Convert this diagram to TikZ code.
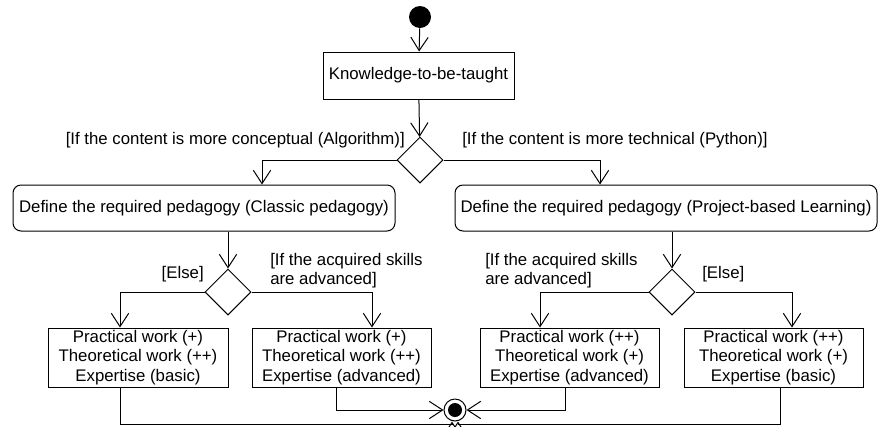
\documentclass[tikz,border=0pt]{standalone}
\usepackage{fontspec}
\setmainfont{Liberation Sans}
\usetikzlibrary{arrows.meta,shapes.geometric}
\begin{document}
\begin{tikzpicture}[x=0.75pt,y=-0.75pt,
  every node/.style={font=\fontsize{12.6}{14.7}\selectfont},
  line/.style={draw=black,line width=0.75pt},
  arr/.style={line,-{Straight Barb[length=10pt,width=13pt]}},
  actbox/.style={line,rectangle,inner sep=0pt,minimum height=46*0.75pt,align=center},
  pedbox/.style={line,rectangle,rounded corners=6pt,inner sep=0pt,minimum height=46*0.75pt},
  resbox/.style={line,rectangle,inner sep=0pt,minimum width=179*0.75pt,minimum height=59*0.75pt,align=center},
  decision/.style={line,diamond,inner sep=0pt,minimum width=46*0.75pt,minimum height=46*0.75pt},
  guard/.style={inner sep=0pt,align=left}]
\useasboundingbox (0,0) rectangle (878,426);
\clip (0,0) rectangle (878,426);
% nodes
\node[circle,fill=black,inner sep=0pt,minimum size=22*0.75pt] (I) at (420,17) {};
\node[actbox,minimum width=191*0.75pt,minimum height=47*0.75pt] (K) at (418.5,75.5) {Knowledge-to-be-taught};
\node[decision] (D0) at (420,160) {};
\node[pedbox,minimum width=382*0.75pt] (P1) at (204,208) {Define the required pedagogy (Classic pedagogy)};
\node[pedbox,minimum width=422*0.75pt] (P2) at (666,208) {Define the required pedagogy (Project-based Learning)};
\node[decision] (D1) at (228,292) {};
\node[decision] (D2) at (672,292) {};
\node[resbox,minimum width=180*0.75pt] (B1) at (138,357.5) {Practical work (+)\\Theoretical work (++)\\Expertise (basic)};
\node[resbox] (B2) at (341.5,357.5) {Practical work (+)\\Theoretical work (++)\\Expertise (advanced)};
\node[resbox] (B3) at (569.5,357.5) {Practical work (++)\\Theoretical work (+)\\Expertise (advanced)};
\node[resbox] (B4) at (773.5,357.5) {Practical work (++)\\Theoretical work (+)\\Expertise (basic)};
\node[line,circle,fill=white,inner sep=0pt,minimum size=22*0.75pt] (F) at (455,410) {};
\node[circle,fill=black,inner sep=0pt,minimum size=14*0.75pt] (Fi) at (F.center) {};
% guards
\node[guard,anchor=east] (g1) at (405,140) {[If the content is more conceptual (Algorithm)]};
\node[guard,anchor=west] (g2) at (462,140) {[If the content is more technical (Python)]};
\node[guard,anchor=east] (g3) at (204,274) {[Else]};
\node[guard,anchor=west] (g4) at (270,270.5) {[If the acquired skills\\are advanced]};
\node[guard,anchor=west] (g5) at (485,270.5) {[If the acquired skills\\are advanced]};
\node[guard,anchor=west] (g6) at (702,274) {[Else]};
% helper coordinates
\coordinate (x262) at (262,0);
\coordinate (x600) at (600,0);
\coordinate (x120) at (120,0);
\coordinate (x372) at (372,0);
\coordinate (x540) at (540,0);
\coordinate (x792) at (792,0);
\coordinate (x336) at (336,0);
\coordinate (x565) at (565,0);
\coordinate (x780) at (780,0);
\coordinate (b1) at (452,424);
\coordinate (b4) at (458,424);
% connectors
\draw[arr] (I) -- (K);
\draw[arr] (K) -- (D0);
\draw[arr] (D0.west) -| (x262 |- P1.north);
\draw[arr] (D0.east) -| (x600 |- P2.north);
\draw[arr] (D1.north |- P1.south) -- (D1.north);
\draw[arr] (D2.north |- P2.south) -- (D2.north);
\draw[arr] (D1.west) -| (x120 |- B1.north);
\draw[arr] (D1.east) -| (x372 |- B2.north);
\draw[arr] (D2.west) -| (x540 |- B3.north);
\draw[arr] (D2.east) -| (x792 |- B4.north);
\draw[arr] (x336 |- B2.south) |- (F.west);
\draw[arr] (x565 |- B3.south) |- (F.east);
\draw[arr] (x120 |- B1.south) |- (b1) -- (b1 |- F.south);
\draw[arr] (x780 |- B4.south) |- (b4) -- (b4 |- F.south);
\end{tikzpicture}
\end{document}
